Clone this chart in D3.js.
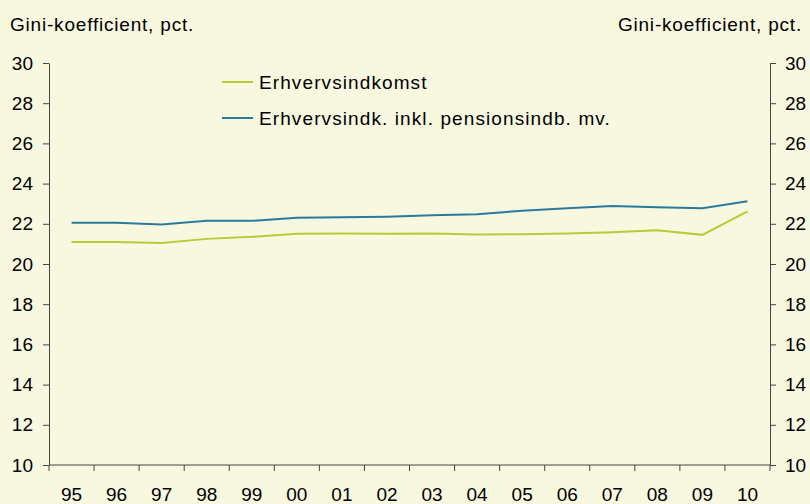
<!DOCTYPE html>
<html>
<head>
<meta charset="utf-8">
<script src="https://cdn.jsdelivr.net/npm/d3@7"></script>
<style>
  body { margin: 0; background: #f8f8e1; }
  svg text { font-family: 'Liberation Sans', Arial, sans-serif; fill: #000; }
</style>
</head>
<body>
<div id="chart"></div>
<script>
const years = ['95', '96', '97', '98', '99', '00', '01', '02', '03', '04', '05', '06', '07', '08', '09', '10'];
const erhverv = [21.1, 21.1, 21.05, 21.25, 21.35, 21.5, 21.52, 21.5, 21.52, 21.47, 21.48, 21.52, 21.58, 21.68, 21.45, 22.62];
const erhvervPension = [22.05, 22.05, 21.97, 22.15, 22.15, 22.3, 22.32, 22.35, 22.42, 22.47, 22.65, 22.77, 22.88, 22.82, 22.77, 23.12];
const yTicks = [10, 12, 14, 16, 18, 20, 22, 24, 26, 28, 30];

const series = [
  { name: 'Erhvervsindkomst', values: erhverv, color: '#b3cd35' },
  { name: 'Erhvervsindk. inkl. pensionsindb. mv.', values: erhvervPension, color: '#2a7a9f' }
];

const width = 810, height = 504;
const plotLeft = 49, plotRight = 770, plotTop = 63, plotBottom = 465;
const fontSize = '19px';

const svg = d3.select('#chart').append('svg')
  .attr('width', width).attr('height', height)
  .style('background', '#f8f8e1');

const x = d3.scaleBand().domain(years).range([plotLeft, plotRight]);
const y = d3.scaleLinear().domain([10, 30]).range([plotBottom, plotTop]);

// axes
const axisColor = '#444';
const yLeft = svg.append('g').attr('transform', `translate(${plotLeft},0)`)
  .call(d3.axisLeft(y).tickValues(yTicks).tickSize(6).tickSizeOuter(0).tickPadding(10));
const yRight = svg.append('g').attr('transform', `translate(${plotRight},0)`)
  .call(d3.axisRight(y).tickValues(yTicks).tickSize(6).tickSizeOuter(0).tickPadding(9));

const xAxis = svg.append('g').attr('transform', `translate(0,${plotBottom})`);
xAxis.append('line')
  .attr('x1', plotLeft).attr('x2', plotRight).attr('y1', 0).attr('y2', 0)
  .attr('stroke', axisColor);
xAxis.selectAll('line.tick')
  .data(years.map(d => x(d)).concat([plotRight]))
  .enter().append('line')
  .attr('class', 'tick')
  .attr('x1', d => d).attr('x2', d => d)
  .attr('y1', 0).attr('y2', 6)
  .attr('stroke', axisColor);
xAxis.selectAll('text')
  .data(years)
  .enter().append('text')
  .attr('x', d => x(d) + x.bandwidth() / 2)
  .attr('y', 36)
  .attr('text-anchor', 'middle')
  .style('font-size', fontSize)
  .text(d => d);

[yLeft, yRight].forEach(g => {
  g.select('.domain').attr('stroke', axisColor);
  g.selectAll('.tick line').attr('stroke', axisColor);
  g.selectAll('.tick text').style('font-size', fontSize).attr('fill', '#000');
});

// axis titles
svg.append('text').attr('x', 10).attr('y', 31)
  .style('font-size', fontSize).style('letter-spacing', '0.8px')
  .text('Gini-koefficient, pct.');
svg.append('text').attr('x', 802).attr('y', 31).attr('text-anchor', 'end')
  .style('font-size', fontSize).style('letter-spacing', '0.8px')
  .text('Gini-koefficient, pct.');

// lines
const line = d3.line()
  .x((d, i) => x(years[i]) + x.bandwidth() / 2)
  .y(d => y(d));

svg.selectAll('path.series')
  .data(series)
  .enter().append('path')
  .attr('class', 'series')
  .attr('fill', 'none')
  .attr('stroke', d => d.color)
  .attr('stroke-width', 2)
  .attr('d', d => line(d.values));

// legend
const legend = svg.selectAll('g.legend')
  .data(series)
  .enter().append('g')
  .attr('class', 'legend')
  .attr('transform', (d, i) => `translate(222,${82 + i * 36})`);
legend.append('line')
  .attr('x1', 0).attr('x2', 31)
  .attr('stroke', d => d.color).attr('stroke-width', 2);
legend.append('text')
  .attr('x', 37).attr('y', 7)
  .style('font-size', fontSize).style('letter-spacing', '1.1px')
  .text(d => d.name);
</script>
</body>
</html>
